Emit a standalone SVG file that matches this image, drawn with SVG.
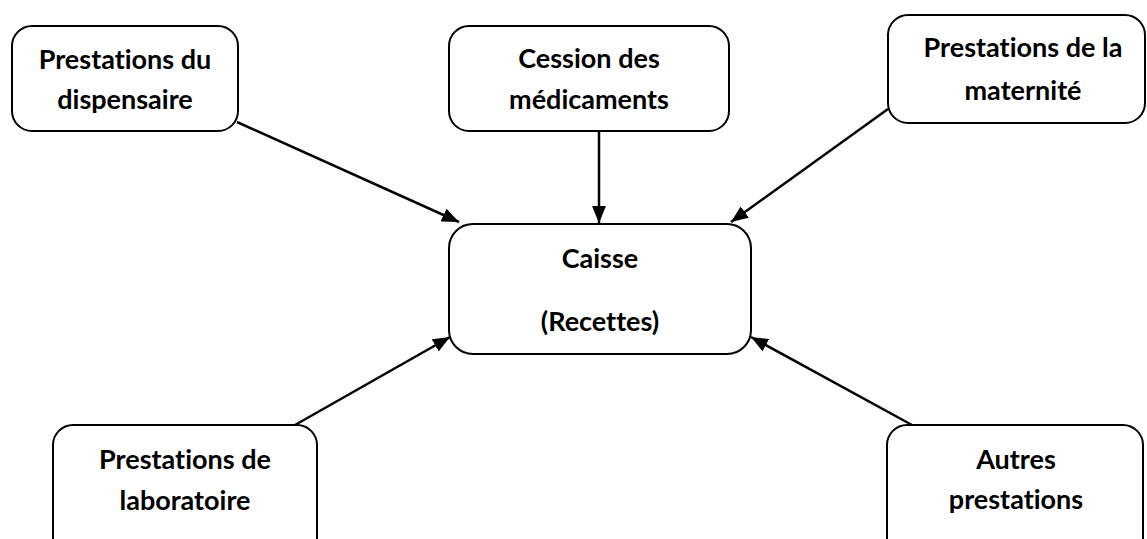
<svg xmlns="http://www.w3.org/2000/svg" width="1147" height="539" viewBox="0 0 1147 539">
  <style>
    .box { fill: #ffffff; stroke: #000000; stroke-width: 2; }
    .lbl { font-family: Lato, "Open Sans", sans-serif; font-weight: bold; font-size: 27px; fill: #000000; text-anchor: middle; font-variant-ligatures: none; font-feature-settings: "liga" 0, "clig" 0; }
    .conn { stroke: #000000; stroke-width: 2.5; fill: none; marker-end: url(#arrow); }
  </style>
  <defs>
    <marker id="arrow" markerUnits="userSpaceOnUse" markerWidth="18" markerHeight="14" refX="17" refY="7" orient="auto">
      <path d="M0,0 L17,7 L0,14 Z" fill="#000000"/>
    </marker>
  </defs>
  <rect width="1147" height="539" fill="#ffffff"/>

  <g id="connectors">
    <line class="conn" x1="237" y1="122" x2="459" y2="222"/>
    <line class="conn" x1="599" y1="131" x2="599" y2="223"/>
    <line class="conn" x1="888" y1="109" x2="731" y2="222"/>
    <line class="conn" x1="295" y1="425" x2="450" y2="337"/>
    <line class="conn" x1="912" y1="425" x2="751" y2="337"/>
  </g>

  <g id="node-dispensaire">
    <rect class="box" x="12" y="26" width="226" height="105" rx="20"/>
    <text class="lbl" x="125" y="69">Prestations du</text>
    <text class="lbl" x="125" y="109">dispensaire</text>
  </g>

  <g id="node-medicaments">
    <rect class="box" x="449" y="26" width="280" height="105" rx="20"/>
    <text class="lbl" x="589" y="68">Cession des</text>
    <text class="lbl" x="589" y="109">médicaments</text>
  </g>

  <g id="node-maternite">
    <rect class="box" x="888" y="15" width="257" height="108" rx="20"/>
    <text class="lbl" x="1023" y="57">Prestations de la</text>
    <text class="lbl" x="1023" y="100">maternité</text>
  </g>

  <g id="node-caisse">
    <rect class="box" x="449" y="224" width="302" height="130" rx="24"/>
    <text class="lbl" x="600" y="268">Caisse</text>
    <text class="lbl" x="600" y="331">(Recettes)</text>
  </g>

  <g id="node-laboratoire">
    <rect class="box" x="53" y="425" width="264" height="140" rx="20"/>
    <text class="lbl" x="185" y="469">Prestations de</text>
    <text class="lbl" x="185" y="510">laboratoire</text>
  </g>

  <g id="node-autres">
    <rect class="box" x="887" y="425" width="256" height="140" rx="20"/>
    <text class="lbl" x="1016" y="469">Autres</text>
    <text class="lbl" x="1016" y="509">prestations</text>
  </g>
</svg>
